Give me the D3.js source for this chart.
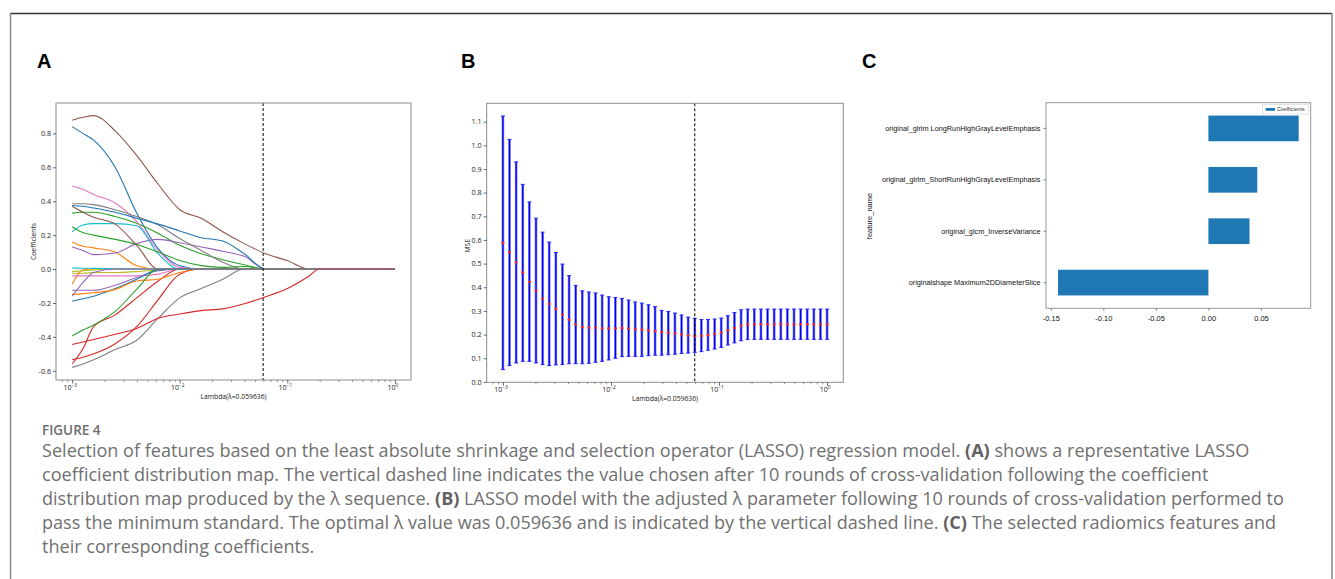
<!DOCTYPE html>
<html>
<head>
<meta charset="utf-8">
<script src="https://cdn.jsdelivr.net/npm/d3@7"></script>
<style>
  body { margin: 0; background: #fff; }
  svg { display: block; }
</style>
</head>
<body>
<svg id="fig"></svg>
<script>
// ---------- data ----------
// Panel A: lambda grid and coefficient paths (tab10 colour cycle, one path per feature)
const coefLambda = [0.001, 0.001259, 0.001585, 0.002512, 0.003981, 0.00631, 0.01, 0.01585, 0.02512, 0.03981, 0.0631, 0.1, 0.1585, 0.1995, 1];
const coefPaths = [
  [0.84, 0.80, 0.76, 0.60, 0.33, 0.12, 0.02, 0, 0, 0, 0, 0, 0, 0, 0],
  [0.16, 0.135, 0.125, 0.10, 0.02, 0, 0, 0, 0, 0, 0, 0, 0, 0, 0],
  [0.33, 0.335, 0.335, 0.31, 0.27, 0.21, 0.14, 0.09, 0.055, 0.025, 0, 0, 0, 0, 0],
  [-0.56, -0.47, -0.34, -0.27, -0.17, -0.07, 0, 0, 0, 0, 0, 0, 0, 0, 0],
  [0.13, 0.11, 0.085, 0.095, 0.15, 0.175, 0.155, 0.13, 0.105, 0.075, 0, 0, 0, 0, 0],
  [0.878, 0.895, 0.905, 0.815, 0.67, 0.50, 0.35, 0.30, 0.22, 0.15, 0.09, 0.05, 0, 0, 0],
  [0.49, 0.47, 0.44, 0.39, 0.28, 0.11, 0.01, 0, 0, 0, 0, 0, 0, 0, 0],
  [0.385, 0.385, 0.38, 0.35, 0.31, 0.26, 0.18, 0.11, 0.04, 0, 0, 0, 0, 0, 0],
  [-0.025, -0.025, -0.02, -0.02, -0.015, -0.005, 0, 0, 0, 0, 0, 0, 0, 0, 0],
  [0.22, 0.26, 0.268, 0.268, 0.255, 0.09, 0, 0, 0, 0, 0, 0, 0, 0, 0],
  [0.375, 0.37, 0.36, 0.335, 0.30, 0.265, 0.225, 0.185, 0.165, 0.09, 0, 0, 0, 0, 0],
  [-0.09, -0.005, 0, 0, 0, 0, 0, 0, 0, 0, 0, 0, 0, 0, 0],
  [0.25, 0.215, 0.20, 0.175, 0.145, 0.10, 0.05, 0.02, 0.01, 0.015, 0, 0, 0, 0, 0],
  [-0.535, -0.52, -0.50, -0.44, -0.34, -0.18, -0.03, 0, 0, 0, 0, 0, 0, 0, 0],
  [-0.125, -0.125, -0.125, -0.095, -0.05, -0.01, 0, 0, 0, 0, 0, 0, 0, 0, 0],
  [0.37, 0.335, 0.305, 0.265, 0.14, 0, 0, 0, 0, 0, 0, 0, 0, 0, 0],
  [-0.04, -0.04, -0.04, -0.04, -0.04, -0.03, 0, 0, 0, 0, 0, 0, 0, 0, 0],
  [-0.58, -0.56, -0.535, -0.475, -0.42, -0.29, -0.17, -0.115, -0.06, 0, 0, 0, 0, 0, 0],
  [-0.015, -0.01, -0.005, 0, 0, 0, 0, 0, 0, 0, 0, 0, 0, 0, 0],
  [0.006, 0.005, 0.004, 0.002, 0, 0, 0, 0, 0, 0, 0, 0, 0, 0, 0],
  [-0.19, -0.175, -0.16, -0.115, -0.06, -0.005, 0, 0, 0, 0, 0, 0, 0, 0, 0],
  [-0.15, -0.145, -0.14, -0.12, -0.07, -0.06, -0.02, 0, 0, 0, 0, 0, 0, 0, 0],
  [-0.395, -0.36, -0.33, -0.25, -0.12, 0, 0, 0, 0, 0, 0, 0, 0, 0, 0],
  [-0.445, -0.43, -0.415, -0.385, -0.35, -0.29, -0.265, -0.245, -0.235, -0.205, -0.163, -0.115, -0.042, 0, 0],
  [-0.16, -0.08, -0.02, 0, 0, 0, 0, 0, 0, 0, 0, 0, 0, 0, 0]
];
const bestLambda = 0.059636;

// Panel B: cross-validation MSE per lambda
const cvLambda = [0.001, 0.001151, 0.001326, 0.001526, 0.001758, 0.002024, 0.00233, 0.002683, 0.003089, 0.003556,
  0.004095, 0.004715, 0.005429, 0.006251, 0.007197, 0.008286, 0.009541, 0.01099, 0.01265, 0.01456,
  0.01677, 0.01931, 0.02223, 0.0256, 0.02947, 0.03393, 0.03907, 0.04498, 0.05179, 0.05964,
  0.06866, 0.07906, 0.09103, 0.1048, 0.1207, 0.1389, 0.16, 0.1842, 0.2121, 0.2442,
  0.2812, 0.3237, 0.3728, 0.4292, 0.4942, 0.569, 0.6551, 0.7543, 0.8685, 1];
const mseMean = [0.588, 0.547, 0.505, 0.463, 0.423, 0.385, 0.352, 0.330, 0.309, 0.285,
  0.263, 0.243, 0.232, 0.229, 0.229, 0.226, 0.226, 0.226, 0.228, 0.226,
  0.222, 0.221, 0.218, 0.215, 0.210, 0.208, 0.205, 0.201, 0.197, 0.194,
  0.195, 0.198, 0.203, 0.208, 0.218, 0.228, 0.238, 0.243, 0.243, 0.243,
  0.243, 0.243, 0.243, 0.243, 0.243, 0.243, 0.243, 0.243, 0.243, 0.243];
const mseUpper = [1.124, 1.025, 0.930, 0.835, 0.761, 0.692, 0.633, 0.591, 0.547, 0.498,
  0.449, 0.408, 0.385, 0.380, 0.376, 0.367, 0.360, 0.357, 0.353, 0.346,
  0.338, 0.333, 0.326, 0.318, 0.302, 0.298, 0.291, 0.283, 0.274, 0.269,
  0.264, 0.264, 0.266, 0.270, 0.280, 0.293, 0.305, 0.308, 0.308, 0.308,
  0.308, 0.308, 0.308, 0.308, 0.308, 0.308, 0.308, 0.308, 0.308, 0.308];
const mseLower = [0.052, 0.069, 0.080, 0.087, 0.087, 0.080, 0.073, 0.069, 0.072, 0.073,
  0.077, 0.077, 0.077, 0.079, 0.083, 0.087, 0.093, 0.100, 0.107, 0.108,
  0.108, 0.108, 0.111, 0.113, 0.113, 0.115, 0.117, 0.120, 0.122, 0.125,
  0.128, 0.134, 0.139, 0.146, 0.156, 0.165, 0.174, 0.179, 0.180, 0.180,
  0.180, 0.180, 0.180, 0.180, 0.180, 0.180, 0.180, 0.180, 0.180, 0.180];

// Panel C: selected features (top to bottom) and coefficients
const featureNames = [
  "original_glrlm LongRunHighGrayLevelEmphasis",
  "original_glrlm_ShortRunHighGrayLevelEmphasis",
  "original_glcm_InverseVariance",
  "originalshape Maximum2DDiameterSlice"
];
const featureCoefs = [0.0859, 0.0465, 0.0391, -0.1431];

const yTicksA = [-0.6, -0.4, -0.2, 0.0, 0.2, 0.4, 0.6, 0.8];
const yTicksB = [0.0, 0.1, 0.2, 0.3, 0.4, 0.5, 0.6, 0.7, 0.8, 0.9, 1.0, 1.1];
const xTicksC = [-0.15, -0.10, -0.05, 0.00, 0.05];
const logTicks = [1e-3, 1e-2, 1e-1, 1];

const captionTitle = "FIGURE 4";
const captionLines = [
  [["Selection of features based on the least absolute shrinkage and selection operator (LASSO) regression model. ", 0], ["(A)", 1], [" shows a representative LASSO", 0]],
  [["coefficient distribution map. The vertical dashed line indicates the value chosen after 10 rounds of cross-validation following the coefficient", 0]],
  [["distribution map produced by the λ sequence. ", 0], ["(B)", 1], [" LASSO model with the adjusted λ parameter following 10 rounds of cross-validation performed to", 0]],
  [["pass the minimum standard. The optimal λ value was 0.059636 and is indicated by the vertical dashed line. ", 0], ["(C)", 1], [" The selected radiomics features and", 0]],
  [["their corresponding coefficients.", 0]]
];

// ---------- setup ----------
const W = 1335, H = 579;
const svg = d3.select("#fig").attr("width", W).attr("height", H);
svg.append("rect").attr("width", W).attr("height", H).attr("fill", "#fff");

const pad = (ext, f = 0.05) => [ext[0] - (ext[1] - ext[0]) * f, ext[1] + (ext[1] - ext[0]) * f];
const logPad = (ext, f = 0.05) => {
  const a = Math.log10(ext[0]), b = Math.log10(ext[1]);
  return [Math.pow(10, a - (b - a) * f), Math.pow(10, b + (b - a) * f)];
};
const tickFont = "'Open Sans', sans-serif";
const frameColor = "#8c8c8c";

// outer figure frame
svg.append("line").attr("x1", 10).attr("x2", 1332).attr("y1", 13.5).attr("y2", 13.5)
  .attr("stroke", "#333").attr("stroke-width", 1.5);
svg.append("line").attr("x1", 10.5).attr("x2", 10.5).attr("y1", 13).attr("y2", H)
  .attr("stroke", "#8a8a8a").attr("stroke-width", 1.5);
svg.append("line").attr("x1", 1332).attr("x2", 1332).attr("y1", 13).attr("y2", H)
  .attr("stroke", "#8a8a8a").attr("stroke-width", 1.5);

// panel letters
[["A", 37], ["B", 461], ["C", 862]].forEach(([t, x]) => {
  svg.append("text").attr("x", x).attr("y", 68).text(t)
    .style("font-family", "'Liberation Sans', Arial, sans-serif")
    .style("font-weight", "bold").style("font-size", "20px").style("fill", "#000");
});

// log x axis with superscript labels and minor ticks
function logAxis(g, x, yPos, labelY) {
  const [d0, d1] = x.domain();
  const minor = [];
  for (let e = -4; e <= 0; e++) {
    for (let k = 2; k <= 9; k++) {
      const v = k * Math.pow(10, e);
      if (v >= d0 && v <= d1) minor.push(v);
    }
  }
  g.append("g").attr("transform", `translate(0,${yPos})`)
    .call(d3.axisBottom(x).tickValues(minor).tickSize(2).tickFormat(""))
    .call(a => a.select(".domain").remove())
    .call(a => a.selectAll("line").attr("stroke", "#555").attr("stroke-width", 0.6));
  g.append("g").attr("transform", `translate(0,${yPos})`)
    .call(d3.axisBottom(x).tickValues(logTicks).tickSize(3.5).tickFormat(""))
    .call(a => a.select(".domain").remove())
    .call(a => a.selectAll("line").attr("stroke", "#444").attr("stroke-width", 0.8));
  logTicks.forEach(v => {
    const t = g.append("text").attr("x", x(v) - 2).attr("y", labelY)
      .attr("text-anchor", "middle")
      .style("font-family", tickFont).style("font-size", "7px").style("fill", "#222");
    t.append("tspan").text("10");
    t.append("tspan").attr("dy", -3).style("font-size", "4.8px")
      .text(Math.round(Math.log10(v)) === 0 ? "0" : "\u2212" + Math.abs(Math.round(Math.log10(v))));
  });
}

function leftAxis(g, y, ticks, xPos) {
  g.append("g").attr("transform", `translate(${xPos},0)`)
    .call(d3.axisLeft(y).tickValues(ticks).tickSize(3).tickPadding(2).tickFormat(d => d3.format(".1f")(d).replace("\u2212", "-")))
    .call(a => a.select(".domain").remove())
    .call(a => a.selectAll("line").attr("stroke", "#444").attr("stroke-width", 0.8))
    .call(a => a.selectAll("text").style("font-family", tickFont).style("font-size", "7.2px").style("fill", "#222"));
}

// ---------- Panel A: coefficient paths ----------
const pa = { left: 56, right: 411, top: 103, bottom: 380 };
const gA = svg.append("g");
const xA = d3.scaleLog().domain(logPad(d3.extent(coefLambda))).range([pa.left, pa.right]);
const yA = d3.scaleLinear().domain(pad(d3.extent(coefPaths.flat()))).range([pa.bottom, pa.top]);
const tab10 = d3.schemeCategory10;

const lineA = d3.line()
  .x((d, i) => xA(coefLambda[i]))
  .y(d => yA(d))
  .curve(d3.curveMonotoneX);

gA.append("g").selectAll("path")
  .data(coefPaths)
  .enter()
  .append("path")
  .attr("d", lineA)
  .attr("fill", "none")
  .attr("stroke", (d, i) => tab10[i % 10])
  .attr("stroke-width", 1.1);

gA.append("line")
  .attr("x1", xA(bestLambda)).attr("x2", xA(bestLambda))
  .attr("y1", pa.top).attr("y2", pa.bottom)
  .attr("stroke", "#000").attr("stroke-width", 1).attr("stroke-dasharray", "3,2");

gA.append("rect").attr("x", pa.left).attr("y", pa.top)
  .attr("width", pa.right - pa.left).attr("height", pa.bottom - pa.top)
  .attr("fill", "none").attr("stroke", frameColor).attr("stroke-width", 1);

leftAxis(gA, yA, yTicksA, pa.left);
logAxis(gA, xA, pa.bottom, pa.bottom + 9.5);

gA.append("text").attr("x", (pa.left + pa.right) / 2).attr("y", 399)
  .attr("text-anchor", "middle").text("Lambda(λ=0.059636)")
  .style("font-family", tickFont).style("font-size", "6.8px").style("fill", "#222");
gA.append("text").attr("transform", `translate(36,${(pa.top + pa.bottom) / 2}) rotate(-90)`)
  .attr("text-anchor", "middle").text("Coefficients")
  .style("font-family", tickFont).style("font-size", "6.8px").style("fill", "#222");

// ---------- Panel B: CV MSE with error bars ----------
const pb = { left: 486.7, right: 843.3, top: 103.3, bottom: 382.3 };
const gB = svg.append("g");
const xB = d3.scaleLog().domain(logPad(d3.extent(cvLambda))).range([pb.left, pb.right]);
const yB = d3.scaleLinear().domain(pad([d3.min(mseLower), d3.max(mseUpper)])).range([pb.bottom, pb.top]);

const cv = cvLambda.map((l, i) => ({ l, m: mseMean[i], lo: mseLower[i], hi: mseUpper[i] }));
const bars = gB.append("g").selectAll("g").data(cv).enter().append("g");
bars.append("line")
  .attr("x1", d => xB(d.l)).attr("x2", d => xB(d.l))
  .attr("y1", d => yB(d.lo)).attr("y2", d => yB(d.hi))
  .attr("stroke", "#7373ff").attr("stroke-width", 2.6);
bars.append("line")
  .attr("x1", d => xB(d.l)).attr("x2", d => xB(d.l))
  .attr("y1", d => yB(d.lo)).attr("y2", d => yB(d.hi))
  .attr("stroke", "#0000e6").attr("stroke-width", 1.2);
["lo", "hi"].forEach(k => {
  bars.append("line")
    .attr("x1", d => xB(d.l) - 2).attr("x2", d => xB(d.l) + 2)
    .attr("y1", d => yB(d[k])).attr("y2", d => yB(d[k]))
    .attr("stroke", "#2222ff").attr("stroke-width", 1);
});
bars.append("rect")
  .attr("x", d => xB(d.l) - 1.5).attr("y", d => yB(d.m) - 1)
  .attr("width", 3).attr("height", 2)
  .attr("fill", "#ff2a2a");

gB.append("line")
  .attr("x1", xB(bestLambda)).attr("x2", xB(bestLambda))
  .attr("y1", pb.top).attr("y2", pb.bottom)
  .attr("stroke", "#000").attr("stroke-width", 1).attr("stroke-dasharray", "3,2");

gB.append("rect").attr("x", pb.left).attr("y", pb.top)
  .attr("width", pb.right - pb.left).attr("height", pb.bottom - pb.top)
  .attr("fill", "none").attr("stroke", frameColor).attr("stroke-width", 1);

leftAxis(gB, yB, yTicksB, pb.left);
logAxis(gB, xB, pb.bottom, pb.bottom + 10);

gB.append("text").attr("x", (pb.left + pb.right) / 2).attr("y", 401)
  .attr("text-anchor", "middle").text("Lambda(λ=0.059636)")
  .style("font-family", tickFont).style("font-size", "6.8px").style("fill", "#222");
gB.append("text").attr("transform", `translate(470,${(pb.top + pb.bottom) / 2 + 3}) rotate(-90)`)
  .attr("text-anchor", "middle").text("MSE")
  .style("font-family", tickFont).style("font-size", "6.8px").style("fill", "#222");

// ---------- Panel C: selected feature coefficients ----------
const pc = { left: 1046, right: 1310.7, top: 102.7, bottom: 308.3 };
const gC = svg.append("g");
const cFont = "'Liberation Sans', Arial, sans-serif";
const xC = d3.scaleLinear()
  .domain(pad([Math.min(0, d3.min(featureCoefs)), Math.max(0, d3.max(featureCoefs))]))
  .range([pc.left, pc.right]);
const yC = d3.scaleBand().domain(featureNames).range([pc.top, pc.bottom])
  .paddingInner(0.5).paddingOuter(0.25);

gC.selectAll("rect.bar")
  .data(featureNames)
  .enter()
  .append("rect")
  .attr("class", "bar")
  .attr("x", (d, i) => xC(Math.min(0, featureCoefs[i])))
  .attr("y", d => yC(d))
  .attr("width", (d, i) => Math.abs(xC(featureCoefs[i]) - xC(0)))
  .attr("height", yC.bandwidth())
  .attr("fill", "#1f77b4");

gC.append("rect").attr("x", pc.left).attr("y", pc.top)
  .attr("width", pc.right - pc.left).attr("height", pc.bottom - pc.top)
  .attr("fill", "none").attr("stroke", "#999").attr("stroke-width", 1);

gC.append("g").attr("transform", `translate(${pc.left},0)`)
  .call(d3.axisLeft(yC).tickSize(2.5).tickPadding(3))
  .call(a => a.select(".domain").remove())
  .call(a => a.selectAll("line").attr("stroke", "#555").attr("stroke-width", 0.7))
  .call(a => a.selectAll("text").style("font-family", cFont).style("font-size", "7.3px").style("fill", "#111"));

gC.append("g").attr("transform", `translate(0,${pc.bottom})`)
  .call(d3.axisBottom(xC).tickValues(xTicksC).tickSize(2.5).tickPadding(5).tickFormat(d => d3.format(".2f")(d).replace("\u2212", "-")))
  .call(a => a.select(".domain").remove())
  .call(a => a.selectAll("line").attr("stroke", "#555").attr("stroke-width", 0.7))
  .call(a => a.selectAll("text").style("font-family", cFont).style("font-size", "7.5px").style("fill", "#111"));

gC.append("text").attr("transform", `translate(872,216) rotate(-90)`)
  .attr("text-anchor", "middle").text("feature_name")
  .style("font-family", cFont).style("font-size", "7.5px").style("fill", "#111");

// legend
const lg = gC.append("g");
lg.append("rect").attr("x", 1262.5).attr("y", 104.5).attr("width", 46).attr("height", 9.5)
  .attr("fill", "#fff").attr("stroke", "#d0d0d0").attr("stroke-width", 0.6);
lg.append("rect").attr("x", 1265.7).attr("y", 108).attr("width", 9.3).attr("height", 2.8).attr("fill", "#1f77b4");
lg.append("text").attr("x", 1277).attr("y", 111.2).text("Coefficients")
  .style("font-family", cFont).style("font-size", "5.3px").style("fill", "#333");

// ---------- caption ----------
const capFont = "'Open Sans', 'Noto Sans', sans-serif";
svg.append("text").attr("x", 42).attr("y", 435).text(captionTitle)
  .style("font-family", capFont).style("font-size", "13.5px").style("font-weight", "600")
  .style("fill", "#6e6e6e");

const capG = svg.append("g");
const capTexts = captionLines.map((segs, li) => {
  const t = capG.append("text").attr("x", 42).attr("y", 457 + li * 24)
    .style("font-family", capFont).style("font-size", "16px").style("fill", "#707070");
  segs.forEach(([s, b]) => {
    t.append("tspan").text(s)
      .style("font-weight", b ? "bold" : "normal")
      .style("fill", b ? "#626262" : "#707070");
  });
  return t;
});
// fit font size so the first line spans the same width as in the figure
const w0 = capTexts[0].node().getComputedTextLength();
const capSize = 16 * 1208 / w0;
capTexts.forEach(t => t.style("font-size", capSize.toFixed(2) + "px"));
</script>
</body>
</html>
